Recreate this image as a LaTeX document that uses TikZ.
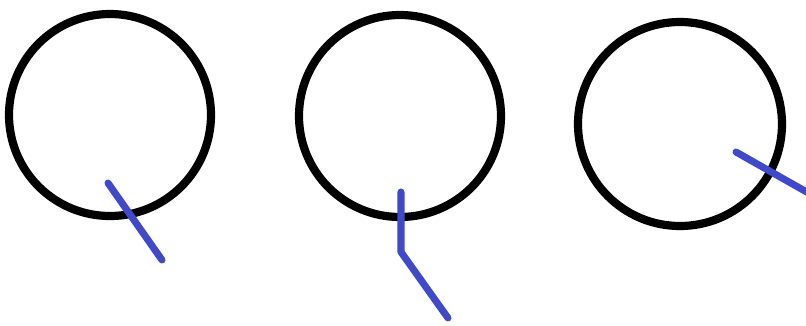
\documentclass[tikz,border=0pt]{standalone}
\usepackage{xcolor}
\usepackage{tikz}
\usetikzlibrary{calc}
\definecolor{penblue}{RGB}{64,72,204}

\begin{document}
\begin{tikzpicture}[x=0.03cm, y=-0.03cm,
  ring/.style={draw=black, line width=7pt, circle, inner sep=0pt, minimum size=6.06cm},
  tail/.style={draw=penblue, line width=6pt, line cap=round, line join=round}]
  \useasboundingbox (0,0) rectangle (806,325);
  % rings
  \node[ring] (ringA) at (110,115) {};
  \node[ring] (ringB) at (400,116) {};
  \node[ring, minimum size=6.12cm] (ringC) at (680,124) {};
  % tails
  \coordinate (tailAs) at (108,183);
  \coordinate (tailAe) at (162,260);
  \coordinate (tailBs) at (401,192);
  \coordinate (tailBk) at (401,252);
  \coordinate (tailBe) at (448,318);
  \coordinate (tailCs) at (736,152);
  \coordinate (tailCe) at (812,195);
  \draw[tail] (tailAs) -- (tailAe);
  \draw[tail] (tailBs) -- (tailBk) -- (tailBe);
  \begin{scope}
    \clip (0,0) rectangle (806,325);
    \draw[tail] (tailCs) -- (tailCe);
  \end{scope}
\end{tikzpicture}
\end{document}
